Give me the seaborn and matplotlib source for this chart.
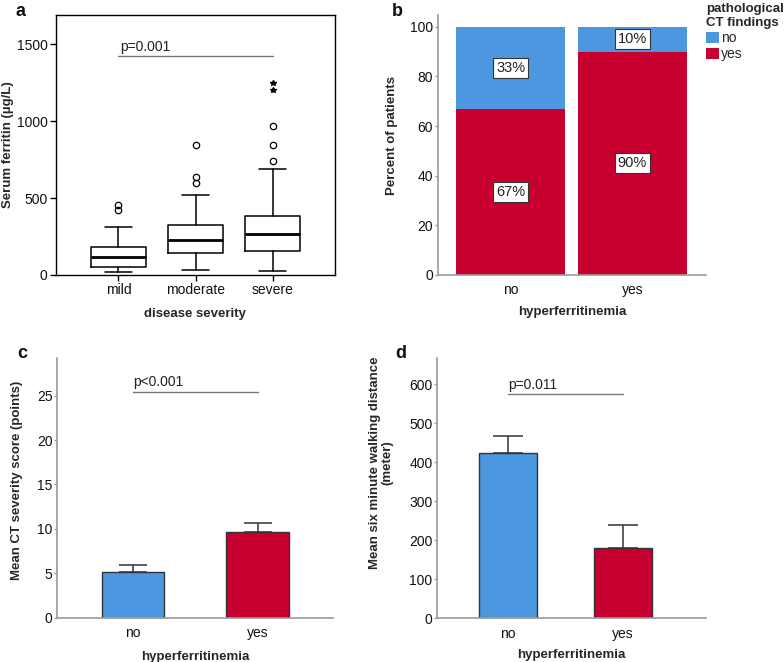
import numpy as np
import matplotlib
matplotlib.use('Agg')
import matplotlib.pyplot as plt
import seaborn as sns
from matplotlib.patches import Patch

# panel a - serum ferritin by disease severity (box summaries)
severity = ['mild', 'moderate', 'severe']
ferr_q1 = [54, 141, 158]
ferr_med = [119, 225, 268]
ferr_q3 = [184, 324, 383]
ferr_whislo = [21, 32, 26]
ferr_whishi = [314, 517, 686]
ferr_outliers = [[420, 452], [600, 634, 844], [742, 846, 967]]
ferr_extremes = [[], [], [1200, 1250]]

# panel b - pathological CT findings (% of patients)
hyper = ['no', 'yes']
ct_no_pct = [33, 10]
ct_yes_pct = [67, 90]

# panel c - CT severity score
ct_score_mean = [5.2, 9.66]
ct_score_err = [0.7, 1.0]

# panel d - six minute walking distance
walk_mean = [425, 181]
walk_err = [42, 59]

blue = '#4D97E0'
red = '#C80030'
grey = '#9a9a9a'

sns.set_theme(style='white')
plt.rcParams['font.family'] = ['Liberation Sans', 'DejaVu Sans']
plt.rcParams['font.size'] = 10

fig = plt.figure(figsize=(7.84, 6.62), dpi=100)
W, H = 784, 662


def add_ax(l, t, r, b):
    return fig.add_axes([l / W, 1 - b / H, (r - l) / W, (b - t) / H])


ax_a = add_ax(56, 15, 335, 275)
ax_b = add_ax(437.7, 15, 706, 275)
ax_c = add_ax(57.3, 358.3, 333, 617.7)
ax_d = add_ax(437.3, 358.3, 706, 618.3)

LAB = 9.5  # bold axis label size

# ---- a: boxplot ----
stats = []
for i, s in enumerate(severity):
    stats.append(dict(label=s, med=ferr_med[i], q1=ferr_q1[i], q3=ferr_q3[i],
                      whislo=ferr_whislo[i], whishi=ferr_whishi[i],
                      fliers=np.array(ferr_outliers[i])))
lw = 1.1
ax_a.bxp(stats, positions=range(3), widths=0.71, capwidths=0.34,
         boxprops=dict(color='black', lw=lw),
         whiskerprops=dict(color='black', lw=lw),
         capprops=dict(color='black', lw=lw),
         medianprops=dict(color='black', lw=2),
         flierprops=dict(marker='o', mfc='none', mec='black', ms=4.6, mew=0.9))
for i, vals in enumerate(ferr_extremes):
    if vals:
        ax_a.plot([i] * len(vals), vals, ls='none', marker='*', color='black', ms=4)
ax_a.set_xlim(-0.81, 2.81)
ax_a.set_ylim(0, 1690)
ax_a.set_yticks([0, 500, 1000, 1500])
ax_a.set_xticks(range(3))
ax_a.set_xticklabels(severity)
for sp in ax_a.spines.values():
    sp.set_color('black')
    sp.set_linewidth(1)
ax_a.tick_params(axis='both', direction='out', length=4, width=1, color='black',
                 labelsize=10, labelcolor='#111', pad=2, left=True, bottom=True)
ax_a.set_xlabel('disease severity', fontweight='bold', fontsize=LAB)
ax_a.xaxis.set_label_coords(0.5, -0.125)
ax_a.set_ylabel('Serum ferritin (µg/L)', fontweight='bold', fontsize=LAB)
ax_a.yaxis.set_label_coords(-0.152, 0.5)
ax_a.plot([0, 2], [1426, 1426], color='#777', lw=1)
ax_a.text(0.02, 1438, 'p=0.001', ha='left', va='bottom', fontsize=10, color='#222')


def style_grey(ax):
    for sp in ['top', 'right']:
        ax.spines[sp].set_visible(False)
    for sp in ['left', 'bottom']:
        ax.spines[sp].set_color(grey)
        ax.spines[sp].set_linewidth(1.2)
    ax.tick_params(axis='y', direction='out', length=2, width=1, color=grey,
                   labelsize=10, labelcolor='#111', pad=1.5, left=True)
    ax.tick_params(axis='x', length=0, labelsize=10, labelcolor='#111', pad=6)


# ---- b: stacked percent bars ----
totals = [n + y for n, y in zip(ct_no_pct, ct_yes_pct)]
sns.barplot(x=hyper, y=totals, color=blue, saturation=1, width=0.897,
            linewidth=0, ax=ax_b)
sns.barplot(x=hyper, y=ct_yes_pct, color=red, saturation=1, width=0.897,
            linewidth=0, ax=ax_b)
box = dict(boxstyle='square,pad=0.2', fc='white', ec='#333', lw=0.8)
for i in range(2):
    ax_b.text(i, ct_yes_pct[i] / 2, f'{ct_yes_pct[i]}%', ha='center', va='center',
              fontsize=10.5, color='#222', bbox=box)
    ax_b.text(i, ct_yes_pct[i] + ct_no_pct[i] / 2, f'{ct_no_pct[i]}%', ha='center',
              va='center', fontsize=10.5, color='#222', bbox=box)
ax_b.set_xlim(-0.603, 1.605)
ax_b.set_ylim(0, 104.7)
ax_b.set_yticks([0, 20, 40, 60, 80, 100])
style_grey(ax_b)
ax_b.set_xlabel('hyperferritinemia', fontweight='bold', fontsize=LAB)
ax_b.xaxis.set_label_coords(0.5, -0.12)
ax_b.set_ylabel('Percent of patients', fontweight='bold', fontsize=LAB)
ax_b.yaxis.set_label_coords(-0.148, 0.535)
handles = [Patch(fc=blue, ec='none'), Patch(fc=red, ec='none')]
leg = ax_b.legend(handles, ['no', 'yes'], title='pathological\nCT findings',
                  loc='upper left', bbox_to_anchor=(1.0, 1.045), frameon=False,
                  borderaxespad=0, handlelength=0.9, handleheight=0.9,
                  handletextpad=0.2, labelspacing=0.15, fontsize=10,
                  alignment='left', borderpad=0)
leg.get_title().set_fontweight('bold')
leg.get_title().set_fontsize(9.5)

# ---- c: CT severity score ----
sns.barplot(x=hyper, y=ct_score_mean, hue=hyper, palette=[blue, red], legend=False,
            saturation=1, width=0.5, edgecolor='#333', linewidth=1, ax=ax_c)
ax_c.errorbar(range(2), ct_score_mean, yerr=[[0, 0], ct_score_err], fmt='none',
              ecolor='#333', elinewidth=1.1, capsize=10, capthick=1.1)
ax_c.set_xlim(-0.604, 1.603)
ax_c.set_ylim(0, 29.2)
ax_c.set_yticks([0, 5, 10, 15, 20, 25])
style_grey(ax_c)
ax_c.set_xlabel('hyperferritinemia', fontweight='bold', fontsize=LAB)
ax_c.xaxis.set_label_coords(0.5, -0.13)
ax_c.set_ylabel('Mean CT severity score (points)', fontweight='bold', fontsize=LAB)
ax_c.yaxis.set_label_coords(-0.124, 0.53)
ax_c.plot([0, 1], [25.4, 25.4], color='#777', lw=1)
ax_c.text(0.0, 25.7, 'p<0.001', ha='left', va='bottom', fontsize=10, color='#222')

# ---- d: six minute walking distance ----
sns.barplot(x=hyper, y=walk_mean, hue=hyper, palette=[blue, red], legend=False,
            saturation=1, width=0.5, edgecolor='#333', linewidth=1, ax=ax_d)
ax_d.errorbar(range(2), walk_mean, yerr=[[0, 0], walk_err], fmt='none',
              ecolor='#333', elinewidth=1.1, capsize=11, capthick=1.1)
ax_d.set_xlim(-0.613, 1.723)
ax_d.set_ylim(0, 667)
ax_d.set_yticks([0, 100, 200, 300, 400, 500, 600])
style_grey(ax_d)
ax_d.set_xlabel('hyperferritinemia', fontweight='bold', fontsize=LAB)
ax_d.xaxis.set_label_coords(0.5, -0.12)
ax_d.set_ylabel('Mean six minute walking distance\n(meter)', fontweight='bold',
                fontsize=LAB, linespacing=0.95)
ax_d.yaxis.set_label_coords(-0.165, 0.6)
ax_d.plot([0, 1], [576, 576], color='#777', lw=1)
ax_d.text(0.0, 581, 'p=0.011', ha='left', va='bottom', fontsize=10, color='#222')

# panel letters
for x, y, s in [(15, 3, 'a'), (392, 3, 'b'), (17, 345, 'c'), (395, 345, 'd')]:
    fig.text(x / W, 1 - y / H, s, ha='left', va='top', fontsize=13,
             fontweight='bold', color='#111')

fig.savefig('out.png', dpi=100)
